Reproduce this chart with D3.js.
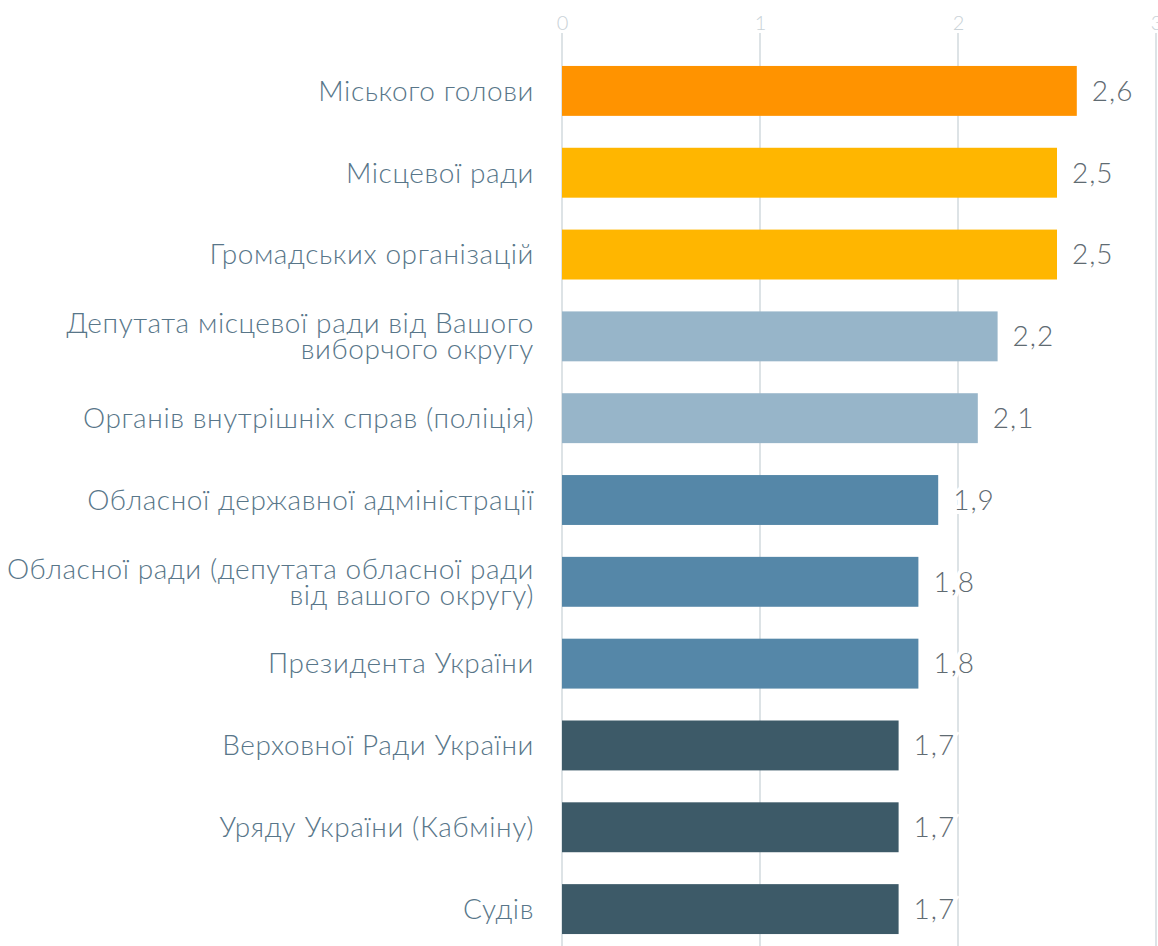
<!DOCTYPE html>
<html>
<head>
<meta charset="utf-8">
<script src="https://cdn.jsdelivr.net/npm/d3@7"></script>
<style>
  body { margin: 0; background: #fff; }
  text { font-family: Lato, "Open Sans", sans-serif; font-weight: 300; }
</style>
</head>
<body>
<div id="chart-area"></div>
<script>
const categories = [
    ["Міського голови"],
    ["Місцевої ради"],
    ["Громадських організацій"],
    ["Депутата місцевої ради від Вашого", "виборчого округу"],
    ["Органів внутрішніх справ (поліція)"],
    ["Обласної державної адміністрації"],
    ["Обласної ради (депутата обласної ради", "від вашого округу)"],
    ["Президента України"],
    ["Верховної Ради України"],
    ["Уряду України (Кабміну)"],
    ["Судів"]
];
const values = [2.6, 2.5, 2.5, 2.2, 2.1, 1.9, 1.8, 1.8, 1.7, 1.7, 1.7];
const groups = [0, 1, 1, 2, 2, 3, 3, 3, 4, 4, 4];
const groupColors = ["#ff9300", "#ffb600", "#97b5c9", "#5587a8", "#3d5a68"];
const ticks = [0, 1, 2, 3];

const width = 1158, height = 946;

const svg = d3.select("#chart-area").append('svg')
                .attr("width", width)
                .attr("height", height);

const x = d3.scaleLinear()
            .domain([0, 3])
            .range([562, 1156]);

const y = d3.scaleBand()
            .domain(d3.range(categories.length))
            .range([50, 950])
            .paddingInner(0.39)
            .paddingOuter(0.195);

// grid lines
svg.selectAll('line.grid')
    .data(ticks).enter()
        .append('line')
            .attr('class', 'grid')
            .attr('x1', d => x(d))
            .attr('x2', d => x(d))
            .attr('y1', 33)
            .attr('y2', height)
            .attr('stroke', '#dde3e6')
            .attr('stroke-width', 2);

// top axis
const axis = svg.append('g')
    .attr('transform', 'translate(0,30)')
    .call(d3.axisTop(x).tickValues(ticks).tickFormat(d3.format('d')).tickSize(0).tickPadding(0));
axis.select('.domain').remove();
axis.selectAll('text')
    .attr('font-size', 20)
    .attr('font-family', 'Lato, sans-serif')
    .attr('font-weight', 300)
    .attr('fill', '#c9d2d7');

// bars
svg.selectAll('rect.bar')
    .data(values).enter()
        .append('rect')
            .attr('class', 'bar')
            .attr('x', x(0))
            .attr('y', (d, i) => y(i))
            .attr('width', d => x(d) - x(0))
            .attr('height', y.bandwidth())
            .attr('fill', (d, i) => groupColors[groups[i]]);

// value labels
svg.selectAll('text.val')
    .data(values).enter()
        .append('text')
            .attr('class', 'val')
            .attr('x', d => x(d) + 15)
            .attr('y', (d, i) => y(i) + y.bandwidth() / 2)
            .attr('dy', '0.35em')
            .attr('font-size', 28)
            .attr('letter-spacing', 1)
            .attr('fill', '#5f6b72')
            .attr('stroke', '#fff')
            .attr('stroke-width', 8)
            .attr('paint-order', 'stroke')
            .text(d => String(d).replace('.', ','));

// category labels
const lineH = 26;
const lab = svg.selectAll('text.cat')
    .data(categories).enter()
        .append('text')
            .attr('class', 'cat')
            .attr('text-anchor', 'end')
            .attr('font-size', 28)
            .attr('letter-spacing', 0.6)
            .attr('fill', '#587689')
            .attr('stroke', '#fff')
            .attr('stroke-width', 8)
            .attr('paint-order', 'stroke')
            .attr('transform', (d, i) => 'translate(534,' + (y(i) + y.bandwidth() / 2) + ')');

lab.selectAll('tspan')
    .data(d => d.map((t, j) => ({ t: t, j: j, n: d.length }))).enter()
        .append('tspan')
            .attr('x', 0)
            .attr('y', d => (d.j - (d.n - 1) / 2) * lineH)
            .attr('dy', '0.35em')
            .text(d => d.t);
</script>
</body>
</html>
